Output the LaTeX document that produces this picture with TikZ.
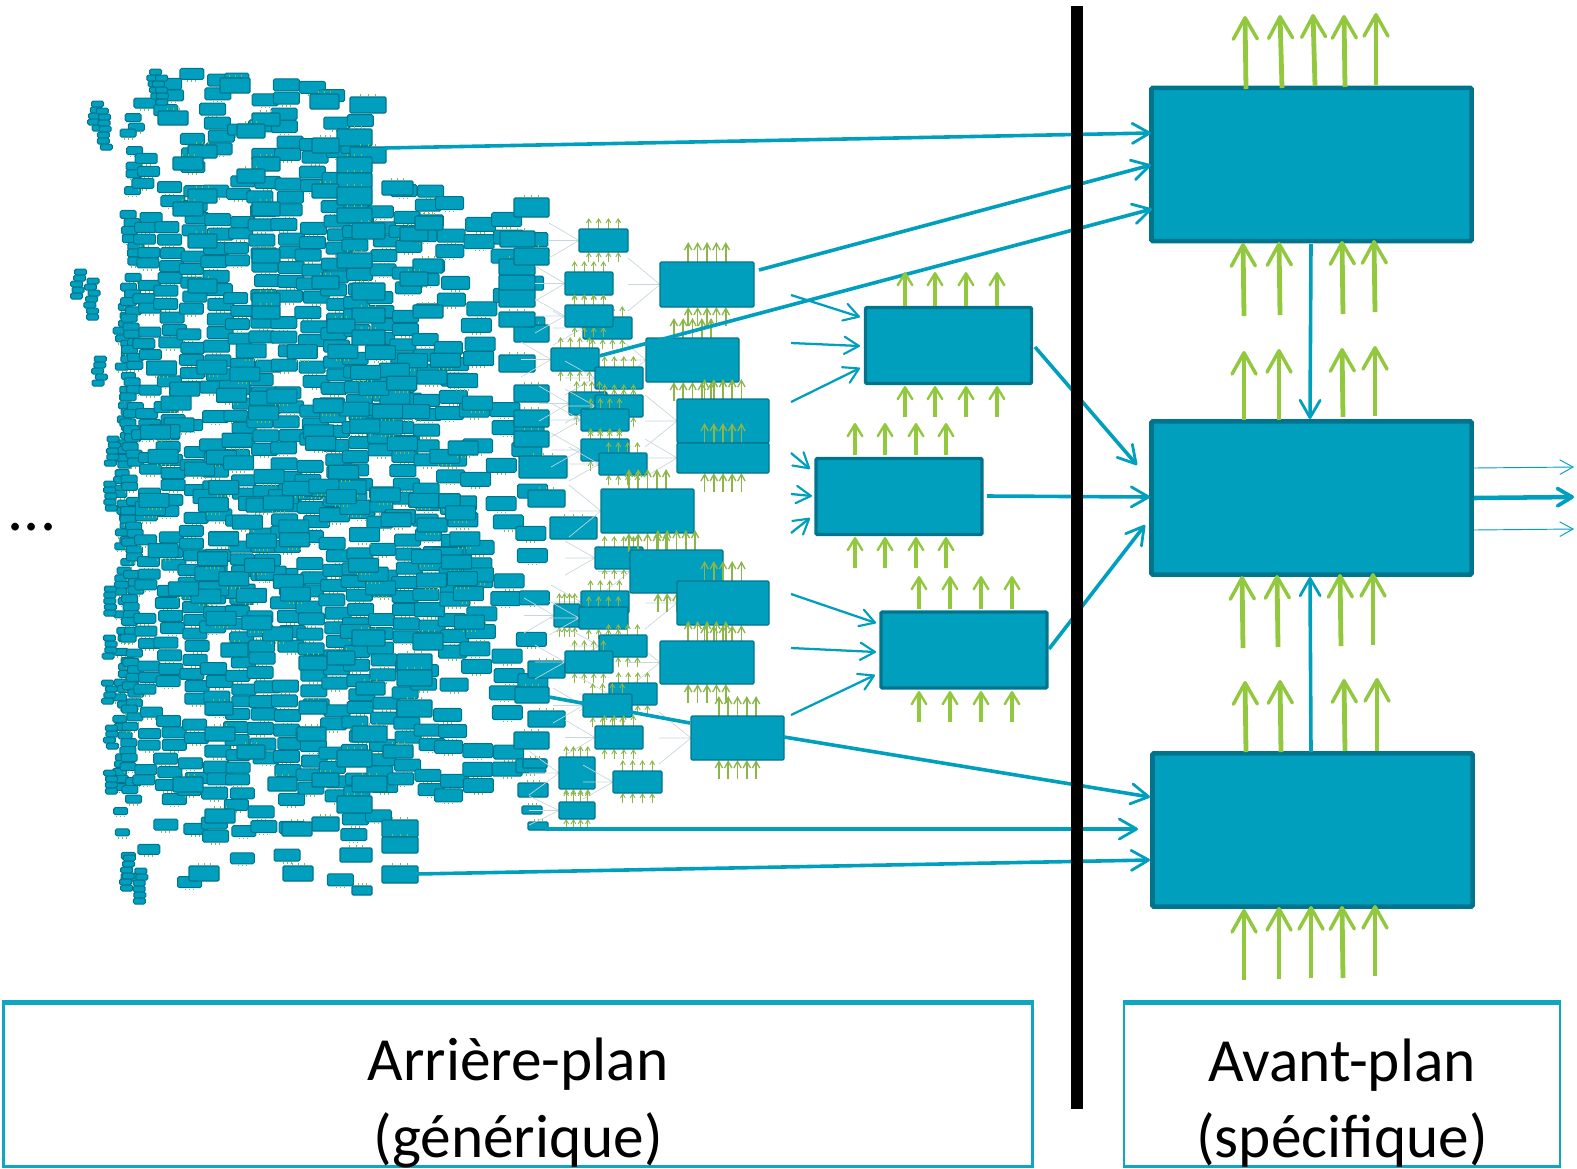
\documentclass[tikz,border=0pt]{standalone}
\usepackage{fontspec}
\setmainfont{Carlito}
\usetikzlibrary{arrows.meta,calc}
\definecolor{tealfill}{HTML}{009FBD}
\definecolor{tealedge}{HTML}{00748C}
\definecolor{leaf}{HTML}{92C83E}
\definecolor{ghost}{HTML}{C6D6DB}
\definecolor{olive}{HTML}{8CB54A}
\definecolor{labeledge}{HTML}{0FA6C0}
\tikzset{
  bigbox/.style={draw=tealedge,fill=tealfill,line width=3.4pt,rounded corners=1pt,inner sep=0pt,minimum width=240pt,minimum height=115pt},
  midbox/.style={draw=tealedge,fill=tealfill,line width=2.6pt,rounded corners=1pt,inner sep=0pt,minimum width=124.5pt,minimum height=57pt},
  flow/.style={draw=tealfill,line width=2.7pt,-{Straight Barb[length=13pt,width=15pt,line width=2.1pt,round]}},
  flowmid/.style={draw=tealfill,line width=1.7pt,-{Straight Barb[length=11pt,width=13pt,line width=1.6pt,round]}},
  flowthin/.style={draw=tealfill,line width=.7pt,-{Straight Barb[length=10pt,width=11pt,line width=.7pt]}},
  flowbold/.style={draw=tealfill,line width=3.4pt,-{Straight Barb[length=11pt,width=13pt,line width=2.8pt,round]}},
  leafbig/.style={draw=leaf,line width=3.6pt,-{Straight Barb[length=16pt,width=18pt,line width=2.6pt,round]}},
  leafmid/.style={draw=leaf,line width=2.4pt,-{Straight Barb[length=9pt,width=11pt,line width=1.8pt,round]}},
  leaftiny/.style={draw=olive,line width=.9pt,-{Straight Barb[length=3pt,width=3.6pt,line width=.7pt]}},
  leaffive/.style={draw=olive,line width=1.2pt,-{Straight Barb[length=5pt,width=5.5pt,line width=1pt]}},
  speck/.style={draw=olive,line width=.7pt},
  cell/.style={draw=tealedge,fill=tealfill,line width=.75pt,rounded corners=1.2pt},
  cellbig/.style={draw=tealedge,fill=tealfill,line width=.8pt,rounded corners=.8pt},
  faint/.style={draw=ghost,line width=.5pt},
  labelbox/.style={draw=labeledge,line width=2.2pt,fill=white,inner sep=0pt,minimum height=122pt},
  labeltext/.style={align=center,font=\fontsize{46}{57.5}\selectfont,inner sep=0pt},
  barline/.style={draw=black,line width=8.4pt}
}
\begin{document}
\begin{tikzpicture}[x=.75pt,y=-.75pt]
\useasboundingbox (0,0) rectangle (1577,1168);
\pgfmathsetseed{4711}
% ---- background mass of small cells
\foreach \cx/\ya/\yb/\pc/\w/\h/\s in {
 124/300/880/.9/14/7/7.5, 132/110/885/.9/16/8/8,
 147/102/890/.8/22/10/11.5, 170/70/880/.78/24/11/13, 193/75/885/.8/24/11/13,
 217/80/880/.8/26/12/14, 240/78/890/.8/24/11/13, 264/85/880/.8/26/12/14,
 288/85/880/.82/26/12/14, 312/88/880/.82/26/12/14, 336/95/880/.82/26/12/14,
 358/120/860/.82/26/12/14, 382/185/840/.8/26/12/14, 405/190/820/.78/26/12/14,
 428/190/800/.75/26/12/15, 452/188/810/.72/28/13/16, 478/190/800/.7/30/14/17,
 505/200/780/.62/30/14/19, 530/240/770/.45/30/14/21}{
  \pgfmathtruncatemacro\nr{(\yb-\ya)/\s}
  \foreach \r in {0,...,\nr}{
    \pgfmathsetmacro\yy{\ya+\r*\s+2.5*(rnd-.5)}
    \pgfmathsetmacro\xx{\cx+9*(rnd-.5)}
    \pgfmathsetmacro\pp{\yy>800?.5*\pc:(\yy<210?.72*\pc:\pc)}
    \pgfmathtruncatemacro\keep{rnd<\pp?1:0}
    \ifnum\keep=1
      \draw[cell] (\xx-\w/2,\yy-\h/2) rectangle (\xx+\w/2,\yy+\h/2);
      \draw[speck] (\xx-4,\yy+\h/2+1) -- ++(0,1.6) (\xx,\yy+\h/2+1) -- ++(0,1.6) (\xx+4,\yy+\h/2+1) -- ++(0,1.6);
    \fi
  }
}
% ---- little clusters sticking out on the far left
\foreach \cxx/\cyy/\nn in {79/266/5, 92/275/7, 96/98/5, 104/105/7, 100/353/5, 112/433/5, 112/478/5, 112/583/5,
  110/632/4, 110/677/4, 110/722/4, 110/767/4, 128/852/6, 140/865/6, 155/66/5, 160/72/5}{
  \foreach \r in {1,...,\nn}{
    \pgfmathsetmacro\xx{\cxx+5*(rnd-.5)}
    \draw[cell] (\xx-6,\cyy+\r*6-3) rectangle (\xx+6,\cyy+\r*6+3);
  }
}
% ---- random medium cells through the dense middle
\foreach \r in {1,...,110}{
  \pgfmathsetmacro\xx{150+rnd*330}
  \pgfmathsetmacro\yy{345+rnd*290}
  \draw[cellbig] (\xx-15,\yy-7) rectangle (\xx+15,\yy+7);
  \draw[speck] (\xx-6,\yy+8) -- ++(0,2) (\xx-2,\yy+8) -- ++(0,2) (\xx+2,\yy+8) -- ++(0,2) (\xx+6,\yy+8) -- ++(0,2);
}
% ---- medium cells seen in the reference
\foreach \a/\b/\c/\d in {
 350/97/386/113,220/78/250/93,310/94/339/109,158/111/188/125,252/113/280/126,237/124/265/138,
 337/129/372/146,312/138/339/153,350/147/386/163,337/157/372/173,337/173/372/188,188/145/217/158,
 173/157/203/170,252/157/280/171,237/169/265/183,382/181/413/195,312/184/339/198,337/187/372/205,
 188/189/217/203,173/202/203/216,252/202/280/216,337/208/372/223,352/223/385/239,400/227/428/241,
 415/216/443/230,188/234/217/248,252/249/280/263,337/253/372/268,413/259/443/273,400/272/428/286,
 188/279/217/293,312/276/339/289,352/283/385/300,252/293/280/307,252/306/280/319,352/308/385/323,
 413/305/443/318,327/319/355/333,352/330/385/345,
 352/630/385/646,413/633/443/650,221/643/248/657,327/651/355/665,299/656/327/670,397/654/432/670,
 397/670/432/686,356/682/385/695,205/702/233/715,299/701/327/714,397/700/432/717,205/727/235/741,
 352/726/387/742,297/727/326/741,237/745/265/759,383/745/413/758,337/750/372/767,173/777/203/792,
 268/777/297/791,312/773/339/787,352/776/387/792,205/809/235/823,337/796/372/813,382/820/418/837,
 382/837/418/853,312/817/339/831,282/822/312/836,340/848/372/862,382/866/418/883,189/866/219/881,
 283/866/313/881,352/886/372/895,
 499/355/535/372,514/325/549/342,499/312/535/327,499/289/535/307,499/275/535/290,499/259/535/275,
 514/248/549/265,500/231/535/247,514/198/549/217,514/385/549/402,514/410/549/427,514/431/549/447,
 519/456/567/478,528/490/565/507,550/517/597/539,528/661/565/678,515/687/549/703,528/711/565/727,
 514/732/549/749,523/759/547/768,518/783/548/797,522/806/542/814,528/822/548/830}{
  \draw[cellbig] (\a,\b) rectangle (\c,\d);
  \draw[speck] ({\a+.3*(\c-\a)},\b-1) -- ++(0,-2.5) ({\a+.5*(\c-\a)},\b-1) -- ++(0,-2.5) ({\a+.7*(\c-\a)},\b-1) -- ++(0,-2.5);
}
% ---- front layer: faint fan-in lines, then boxes with small arrows
\def\frontlist{579/229/628/252, 565/272/613/295, 583/317/632/339, 565/305/613/327, 551/348/599/371,
 595/367/643/389, 569/392/607/415, 595/395/643/417, 581/409/629/431, 581/439/629/461, 599/453/647/475,
 595/547/643/569, 581/591/629/613, 554/604/580/627, 579/607/628/629, 599/635/647/657, 565/651/613/673,
 609/683/657/705, 583/694/632/717, 595/726/643/749, 559/757/595/789, 613/771/662/793, 559/802/595/819}
\def\largelist{660/262/754/307, 646/338/739/382, 677/399/769/443, 677/443/769/473, 601/489/694/533,
 630/550/723/593, 677/581/769/625, 660/641/754/684, 691/716/784/760}
\foreach \a/\b/\c/\d in \largelist{
  \draw[faint] (\a-32,\b-4) -- (\a,{(\b+\d)/2}) (\a-32,{(\b+\d)/2}) -- (\a,{(\b+\d)/2}) (\a-32,\d+4) -- (\a,{(\b+\d)/2});
}
\foreach \a/\b/\c/\d in \frontlist{
  \draw[faint] (\a-30,\b-6) -- (\a,{(\b+\d)/2}) (\a-30,{(\b+\d)/2}) -- (\a,{(\b+\d)/2}) (\a-30,\d+6) -- (\a,{(\b+\d)/2});
  \foreach \k in {1,2,3,4}{
    \draw[leaftiny] ({\a+(\c-\a)*.2*\k},\b) -- ++(0,-11);
    \draw[leaftiny] ({\a+(\c-\a)*.2*\k},\d+10) -- ++(0,-10);
  }
  \draw[cellbig] (\a,\b) rectangle (\c,\d);
}
\foreach \a/\b/\c/\d in \largelist{
  \foreach \k in {1,...,5}{
    \draw[leaffive] ({\a+(\c-\a)*(.2+.1*\k)},\b) -- ++(0,-20);
    \draw[leaffive] ({\a+(\c-\a)*(.2+.1*\k)},\d+19) -- ++(0,-19);
  }
  \draw[cellbig] (\a,\b) rectangle (\c,\d);
}
% ---- ellipsis
\node[inner sep=0pt,anchor=base,font=\fontsize{48}{48}\selectfont] (dots) at (32,530) {...};
% ---- main boxes
\node[bigbox] (A) at (1311.5,164.5) {};
\node[bigbox] (B) at (1311.5,498) {};
\node[bigbox] (C) at (1312.5,830) {};
\node[midbox] (M1) at (948.5,345.5) {};
\node[midbox] (M2) at (899,496.5) {};
\node[midbox] (M3) at (964,650) {};
% ---- named ends of connectors
\foreach \n/\p/\q in {s1/385/148, t1/1151/133, s2/759/270, t2/1151/165, s3/599/356, t3/1152/209,
  s4/1035/347, t4/1137/465, s5/987/496, t5/1150/497, s6/1049/649, t6/1145/525,
  s7/549/697, t7/690/723, s8/784/737, t8/1150/797, s9/545/829, t9/1138/829, s10/416/874, t10/1150/860,
  a1/791/295, b1/860/317, a2/791/343, b2/860/346, a3/791/402, b3/860/368,
  a4/791/453, b4/810/469, a5/791/494, b5/812/496, a6/791/533, b6/810/518,
  a7/791/594, b7/876/623, a8/791/648, b8/876/652, a9/791/715, b9/875/675,
  ab1/1311/244, ab2/1310/419, cb1/1311/752, cb2/1310/577,
  o1/1474/468, p1/1574/467, o2/1474/498, p2/1574/497, o3/1474/530, p3/1574/529}{
  \coordinate (\n) at (\p,\q);
}
\draw[flow] (s1) -- (t1);
\draw[flow] (s2) -- (t2);
\draw[flow] (s3) -- (t3);
\draw[flow] (s4) -- (t4);
\draw[flow] (s5) -- (t5);
\draw[flow] (s6) -- (t6);
\draw[draw=tealfill,line width=2.7pt] (s7) -- (t7);
\draw[flow] (s8) -- (t8);
\draw[flow] (s9) -- (t9);
\draw[flow] (s10) -- (t10);
\foreach \i in {1,...,9}{\draw[flowmid] (a\i) -- (b\i);}
\draw[flow] (ab1) -- (ab2);
\draw[flow] (cb1) -- (cb2);
\draw[flowthin] (o1) -- (p1);
\draw[flowbold] (o2) -- (p2);
\draw[flowthin] (o3) -- (p3);
% ---- big green arrows
\foreach \xa/\ya/\xb/\yb in {
 1246/89/1245/16, 1282/88/1280/15, 1315/86/1313/14, 1345/87/1344/15, 1376/85/1376/13,
 1244/316/1243/243, 1280/315/1279/242, 1343/314/1342/241, 1375/312/1374/240,
 1244/420/1244/351, 1279/420/1279/349, 1343/417/1342/348, 1375/416/1375/346,
 1243/648/1242/576, 1278/647/1277/575, 1341/646/1340/574, 1373/645/1373/573,
 1246/752/1245/681, 1281/752/1280/680, 1345/751/1344/679, 1377/751/1377/678,
 1244/980/1244/909, 1279/979/1279/907, 1311/978/1311/906, 1343/978/1342/906, 1375/976/1375/905}{
  \draw[leafbig] (\xa,\ya) -- (\xb,\yb);
}
% ---- medium green arrows
\foreach \xx/\ya/\yb in {
 905/306/272, 935/306/272, 966/306/272, 997/306/272, 905/417/386, 935/417/386, 966/417/386, 997/417/386,
 855/455/423, 885/455/423, 916/455/423, 946/455/423, 855/568/537, 885/568/537, 916/568/537, 946/568/537,
 919/609/576, 950/609/576, 981/609/576, 1012/609/576, 919/722/691, 950/722/691, 981/722/691, 1012/722/691}{
  \draw[leafmid] (\xx,\ya) -- (\xx,\yb);
}
% ---- separator
\coordinate (bartop) at (1077,6);
\coordinate (barbot) at (1077,1109);
\draw[barline] (bartop) -- (barbot);
% ---- label boxes
\node[labelbox,minimum width=772pt] (back) at (518,1085) {};
\node[labelbox,minimum width=327pt] (front) at (1342,1085) {};
\draw[draw=labeledge,line width=3.6pt] (back.north west) -- (back.north east);
\draw[draw=labeledge,line width=3.6pt] (front.north west) -- (front.north east);
\node[labeltext] (backtext) at (518,1103) {Arrière-plan\\(générique)};
\node[labeltext] (fronttext) at (1342,1103) {Avant-plan\\(spécifique)};
\end{tikzpicture}
\end{document}
